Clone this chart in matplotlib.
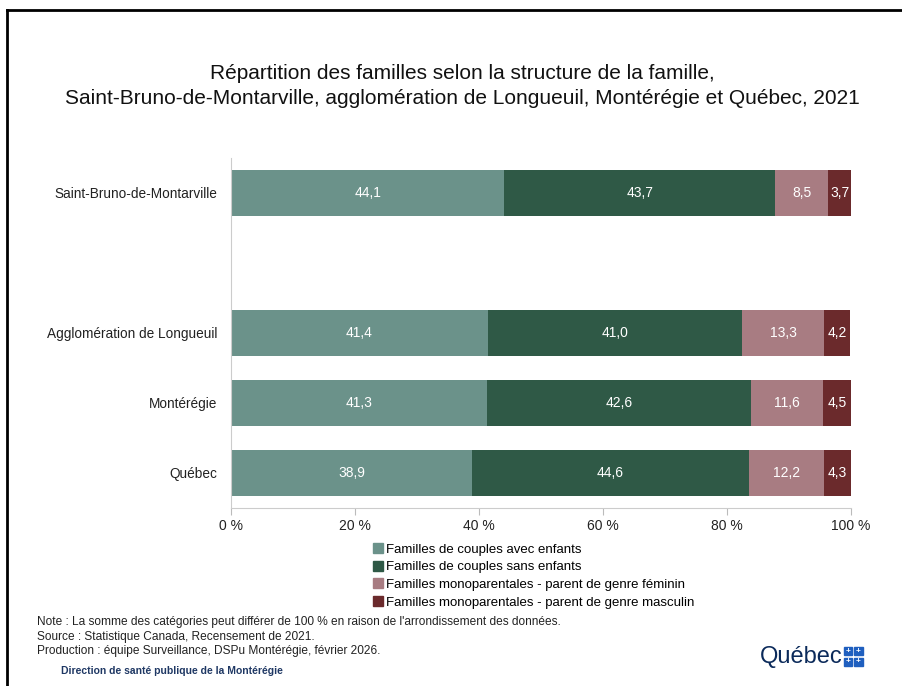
import matplotlib.pyplot as plt
from matplotlib.lines import Line2D
from matplotlib.patches import Rectangle

# Data
regions = ['Québec', 'Montérégie', 'Agglomération de Longueuil', 'Saint-Bruno-de-Montarville']
positions = [0, 1, 2, 4]
series_names = ['Familles de couples avec enfants',
                'Familles de couples sans enfants',
                'Familles monoparentales - parent de genre féminin',
                'Familles monoparentales - parent de genre masculin']
avec_enfants = [38.9, 41.3, 41.4, 44.1]
sans_enfants = [44.6, 42.6, 41.0, 43.7]
mono_feminin = [12.2, 11.6, 13.3, 8.5]
mono_masculin = [4.3, 4.5, 4.2, 3.7]
colors = ['#6b928a', '#2f5946', '#a87c82', '#6b2a2c']

plt.rcParams['font.family'] = ['Liberation Sans', 'DejaVu Sans']

fig = plt.figure(figsize=(9.02, 6.86), dpi=100)
ax = fig.add_axes([0.2561, 0.2595, 0.6874, 0.5102])

left = [0.0] * len(regions)
for vals, name, col in zip([avec_enfants, sans_enfants, mono_feminin, mono_masculin], series_names, colors):
    bars = ax.barh(positions, vals, left=left, height=0.66, color=col, label=name)
    for b, v in zip(bars, vals):
        ax.text(b.get_x() + b.get_width() / 2, b.get_y() + b.get_height() / 2,
                f'{v:.1f}'.replace('.', ','), ha='center', va='center',
                color='white', fontsize=10)
    left = [l + v for l, v in zip(left, vals)]

ax.set_xlim(0, 100)
ax.set_ylim(-0.5, 4.5)
ax.set_yticks(positions)
ax.set_yticklabels(regions, fontsize=9.8, color='#222222')
ax.set_xticks([0, 20, 40, 60, 80, 100])
ax.set_xticklabels(['0 %', '20 %', '40 %', '60 %', '80 %', '100 %'], fontsize=10, color='#222222')
ax.tick_params(axis='y', length=0, pad=10)
ax.tick_params(axis='x', length=5, color='#bbbbbb', pad=3)
for s in ['top', 'right']:
    ax.spines[s].set_visible(False)
ax.spines['left'].set_color('#cccccc')
ax.spines['bottom'].set_color('#cccccc')

# Legend
handles = [Line2D([], [], marker='s', linestyle='', color=c, markersize=7) for c in colors]
fig.legend(handles, series_names, loc='upper left', bbox_to_anchor=(0.413, 0.208),
           frameon=False, fontsize=9.5, handletextpad=0.2, labelspacing=0.42,
           handlelength=0.8, borderaxespad=0, borderpad=0)

# Title
fig.text(0.513, 0.874, 'Répartition des familles selon la structure de la famille,\n'
         'Saint-Bruno-de-Montarville, agglomération de Longueuil, Montérégie et Québec, 2021',
         ha='center', va='center', fontsize=15, linespacing=1.4, color='#111111')

# Notes
notes = ["Note : La somme des catégories peut différer de 100 % en raison de l'arrondissement des données.",
         'Source : Statistique Canada, Recensement de 2021.',
         'Production : équipe Surveillance, DSPu Montérégie, février 2026.']
for i, n in enumerate(notes):
    fig.text(0.041, 0.0935 - i * 0.0215, n, fontsize=8.6, color='#222222', va='center')
fig.text(0.068, 0.022, 'Direction de santé publique de la Montérégie', fontsize=7.5,
         fontweight='bold', color='#1f3864', va='center')

# Québec logo
fig.text(0.842, 0.042, 'Québec', fontsize=17, color='#0b2a5a', va='center', ha='left')
for dx in (0, 1):
    for dy in (0, 1):
        x0, y0 = 0.9355 + dx * 0.0115, 0.029 + dy * 0.0155
        fig.patches.append(Rectangle((x0, y0), 0.0095, 0.0125,
                                     transform=fig.transFigure, color='#1f5fbf'))
        fig.text(x0 + 0.00475, y0 + 0.0062, '+', color='white', fontsize=6,
                 ha='center', va='center', fontweight='bold')

# Frame
fig.add_artist(Line2D([0.008, 0.008], [0, 0.986], transform=fig.transFigure, color='black', lw=2))
fig.add_artist(Line2D([0.008, 1], [0.986, 0.986], transform=fig.transFigure, color='black', lw=2))

fig.savefig('out.png', dpi=100)
